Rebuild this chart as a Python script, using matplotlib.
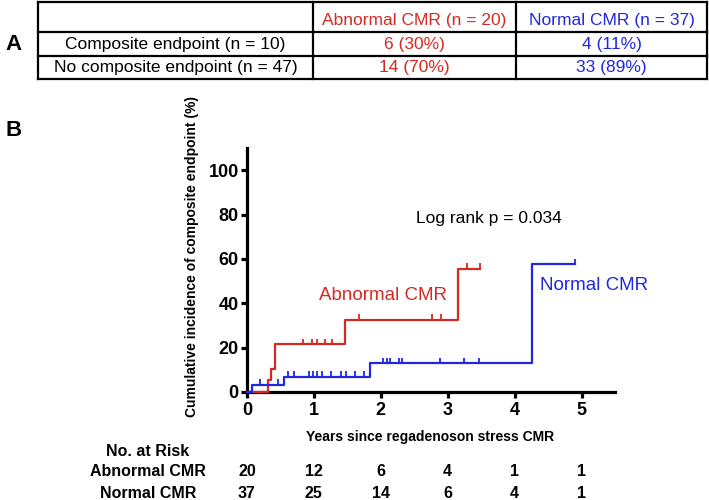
import numpy as np
import matplotlib
matplotlib.use("Agg")
import matplotlib.pyplot as plt
from matplotlib.lines import Line2D

plt.rcParams['font.family'] = ['Liberation Sans', 'DejaVu Sans']

# ---------------- data ----------------
table_rows = ["Composite endpoint (n = 10)", "No composite endpoint (n = 47)"]
table_cols = ["Abnormal CMR (n = 20)", "Normal CMR (n = 37)"]
abnormal_cells = ["6 (30%)", "14 (70%)"]
normal_cells = ["4 (11%)", "33 (89%)"]

abn_times = [0.0, 0.31, 0.36, 0.42, 1.46, 3.15, 3.48]
abn_levels = [0.0, 5.5, 10.5, 21.5, 32.4, 55.5, 55.5]
abn_censor = [0.83, 0.97, 1.05, 1.16, 1.27, 1.68, 2.77, 2.90, 3.29, 3.48]

nor_times = [0.0, 0.08, 0.56, 1.84, 4.26, 4.90]
nor_levels = [0.0, 3.3, 6.8, 12.9, 57.5, 57.5]
nor_censor = [0.19, 0.47, 0.62, 0.70, 0.92, 0.99, 1.05, 1.12, 1.25, 1.40,
              1.48, 1.62, 1.75, 2.03, 2.09, 2.14, 2.27, 2.32, 2.88, 3.25,
              3.47, 4.90]

risk_years = [0, 1, 2, 3, 4, 5]
risk_abnormal = [20, 12, 6, 4, 1, 1]
risk_normal = [37, 25, 14, 6, 4, 1]

RED = '#d42a22'
BLUE = '#2128dc'

# ---------------- figure ----------------
W, H = 709, 500
fig = plt.figure(figsize=(W / 100, H / 100), dpi=100)

# overlay in pixel coordinates for panel A and labels
ov = fig.add_axes([0, 0, 1, 1])
ov.set_xlim(0, W)
ov.set_ylim(H, 0)
ov.axis('off')

# table grid
xs = [37.7, 313, 516, 707]
ys = [2, 31.7, 56, 78.7]
lw_tab = 1.6
for y in ys:
    ov.add_line(Line2D([xs[0], xs[-1]], [y, y], color='black', lw=lw_tab))
for x in xs:
    ov.add_line(Line2D([x, x], [ys[0], ys[-1]], color='black', lw=lw_tab))

tfs = 12.5
col_cx = [(xs[i] + xs[i + 1]) / 2 for i in range(3)]
ov.text(col_cx[1], 21, table_cols[0], color=RED, fontsize=tfs, ha='center', va='center')
ov.text(col_cx[2], 21, table_cols[1], color=BLUE, fontsize=tfs, ha='center', va='center')
for i, lab in enumerate(table_rows):
    yc = (ys[i + 1] + ys[i + 2]) / 2 + 0.5
    ov.text(col_cx[0], yc, lab, color='black', fontsize=tfs, ha='center', va='center')
    ov.text(col_cx[1], yc, abnormal_cells[i], color=RED, fontsize=tfs, ha='center', va='center')
    ov.text(col_cx[2], yc, normal_cells[i], color=BLUE, fontsize=tfs, ha='center', va='center')

ov.text(14, 44, "A", fontsize=16, fontweight='bold', ha='center', va='center')
ov.text(14, 131, "B", fontsize=16, fontweight='bold', ha='center', va='center')

# risk table labels
rfs = 11.5
ov.text(148, 452, "No. at Risk", fontsize=rfs, fontweight='bold', ha='center', va='center')
ov.text(148, 472, "Abnormal CMR", fontsize=rfs, fontweight='bold', ha='center', va='center')
ov.text(148, 493, "Normal CMR", fontsize=rfs, fontweight='bold', ha='center', va='center')

# ---------------- KM panel ----------------
ax = fig.add_axes([247 / W, (H - 392) / H, 368 / W, 244 / H])
ax.set_xlim(0, 5.5)
ax.set_ylim(0, 110)

ax.step(abn_times, abn_levels, where='post', color=RED, lw=1.6, zorder=3, clip_on=False)
ax.step(nor_times, nor_levels, where='post', color=BLUE, lw=1.6, zorder=3, clip_on=False)

def level_at(times, levels, t):
    idx = np.searchsorted(times, t, side='right') - 1
    return np.asarray(levels)[idx]

ac = np.array(abn_censor)
ay = level_at(abn_times, abn_levels, ac)
ax.vlines(ac, ay, ay + 2.6, color=RED, lw=1.3, zorder=3)
nc = np.array(nor_censor)
ny = level_at(nor_times, nor_levels, nc)
ax.vlines(nc, ny, ny + 2.6, color=BLUE, lw=1.3, zorder=3)

for s in ['top', 'right']:
    ax.spines[s].set_visible(False)
for s in ['left', 'bottom']:
    ax.spines[s].set_linewidth(2.3)
ax.set_xticks(risk_years)
ax.set_yticks([0, 20, 40, 60, 80, 100])
ax.tick_params(axis='both', direction='out', length=4, width=2.3, labelsize=13, pad=2)
ax.tick_params(axis='x', pad=3)
for lab in ax.get_xticklabels() + ax.get_yticklabels():
    lab.set_fontweight('bold')

ax.set_xlabel("Years since regadenoson stress CMR", fontsize=10, fontweight='bold')
ax.xaxis.set_label_coords(0.497, -0.157)
ax.set_ylabel("Cumulative incidence of composite endpoint (%)", fontsize=10, fontweight='bold')
ax.yaxis.set_label_coords(-0.13, 0.557)

ax.text(3.61, 78.4, "Log rank p = 0.034", fontsize=12.5, ha='center', va='center')
ax.text(2.04, 43.7, "Abnormal CMR", fontsize=13.5, color=RED, ha='center', va='center')
ax.text(5.18, 48.2, "Normal CMR", fontsize=13.5, color=BLUE, ha='center', va='center')

# at-risk numbers aligned with x data
trans = ax.get_xaxis_transform()
for x, a, n in zip(risk_years, risk_abnormal, risk_normal):
    ax.text(x, (392 - 472) / 244, str(a), transform=trans, fontsize=rfs,
            fontweight='bold', ha='center', va='center', clip_on=False)
    ax.text(x, (392 - 493) / 244, str(n), transform=trans, fontsize=rfs,
            fontweight='bold', ha='center', va='center', clip_on=False)

fig.savefig("out.png", dpi=100)
